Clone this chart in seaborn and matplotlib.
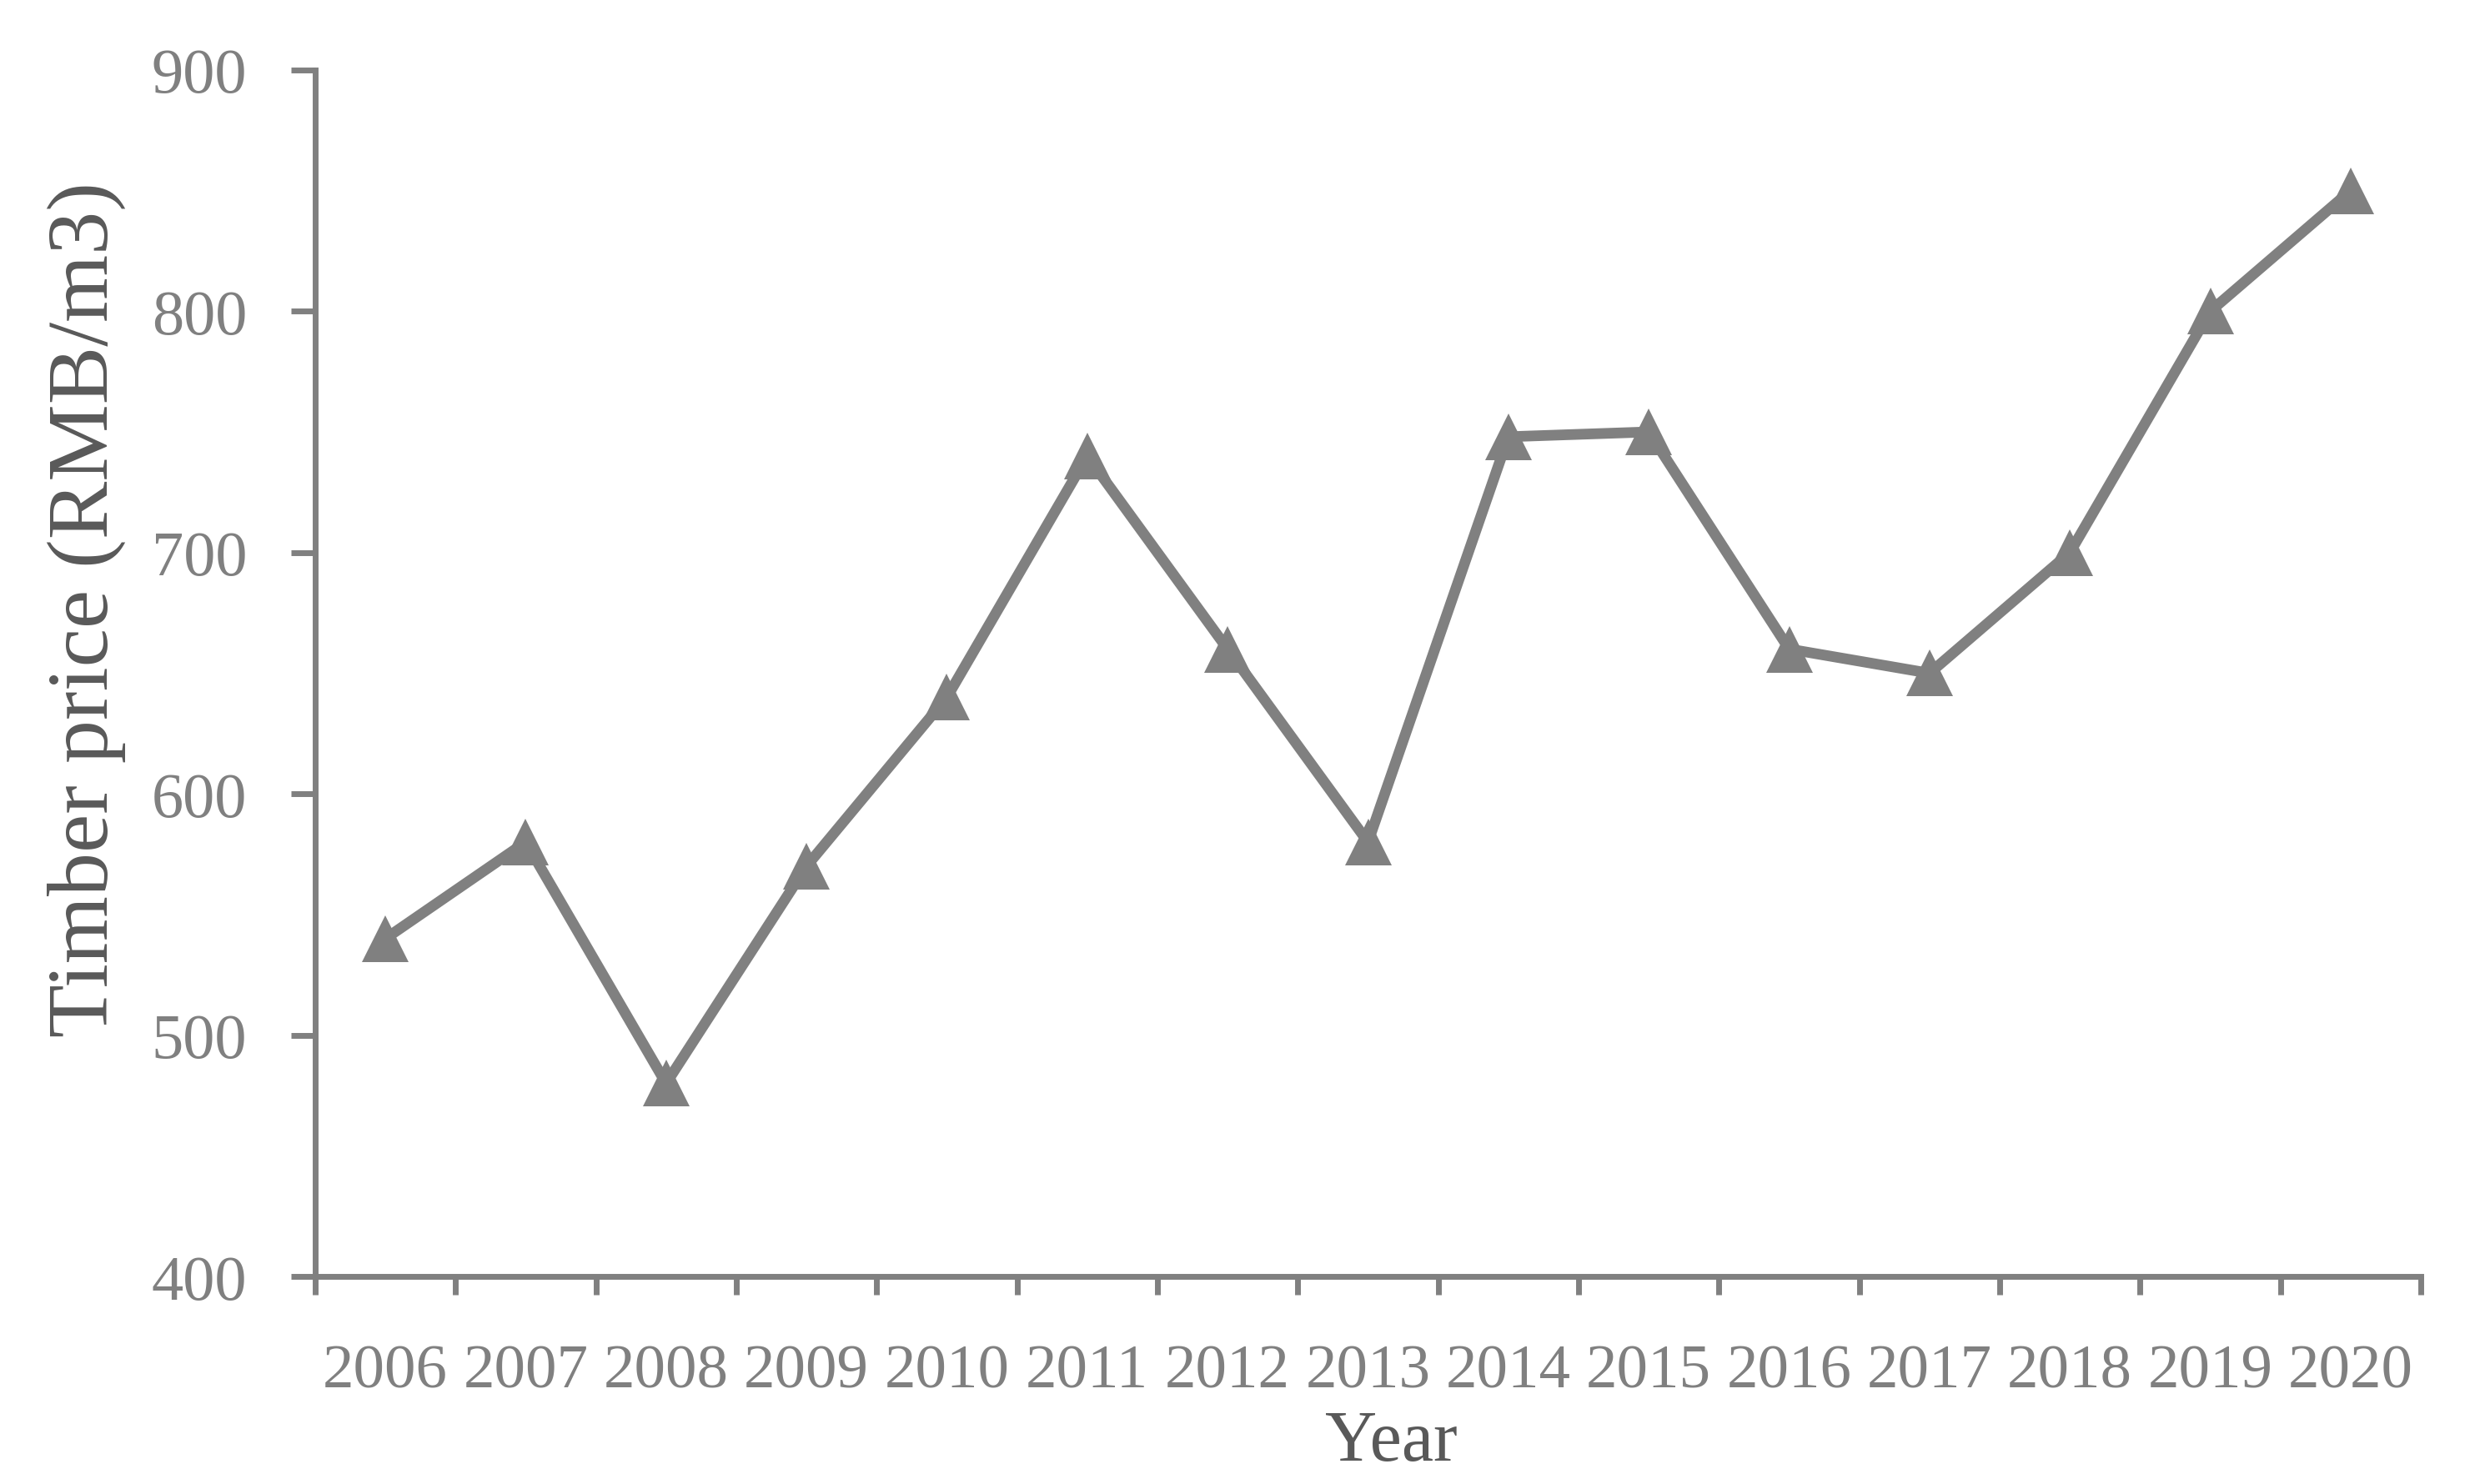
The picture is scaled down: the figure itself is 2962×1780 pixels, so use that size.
import numpy as np
import pandas as pd
import matplotlib
matplotlib.use('Agg')
import matplotlib.pyplot as plt
import seaborn as sns
from matplotlib.ticker import FixedLocator, NullFormatter

years = [2006, 2007, 2008, 2009, 2010, 2011, 2012, 2013,
         2014, 2015, 2016, 2017, 2018, 2019, 2020]
prices = [540, 580, 480, 570, 640, 740, 660, 580,
          748, 750, 660, 650, 700, 800, 850]
y_ticks = [400, 500, 600, 700, 800, 900]

df = pd.DataFrame({'Year': years, 'Price': prices})

sns.set_style('white')
plt.rcParams['font.family'] = ['Liberation Serif', 'DejaVu Serif']

grey = '#808080'
dark = '#595959'

fig = plt.figure(figsize=(14.81, 8.905), dpi=200)
ax = fig.add_axes([0.1276, 0.1398, 0.8525, 0.8125])

sns.lineplot(data=df, x='Year', y='Price', ax=ax, color=grey,
             linewidth=4.6, marker='^', markersize=20,
             markeredgewidth=0, markerfacecolor=grey)

ax.set_xlim(years[0] - 0.5, years[-1] + 0.5)
ax.set_ylim(y_ticks[0], y_ticks[-1])

# category style axis: ticks between years, labels at the years
ax.xaxis.set_major_locator(FixedLocator([y - 0.5 for y in years] + [years[-1] + 0.5]))
ax.xaxis.set_major_formatter(NullFormatter())
ax.set_xticks(years, minor=True)
ax.set_xticklabels([str(y) for y in years], minor=True)
ax.tick_params(axis='x', which='major', direction='out', length=8,
               width=2.5, color=grey, bottom=True)
ax.tick_params(axis='x', which='minor', length=0, pad=29,
               labelsize=27, labelcolor=grey, bottom=True)

ax.set_yticks(y_ticks)
ax.tick_params(axis='y', direction='out', length=10.5, width=2.5,
               color=grey, pad=19, labelsize=27.5, labelcolor=grey, left=True)

for side in ['top', 'right']:
    ax.spines[side].set_visible(False)
for side in ['left', 'bottom']:
    ax.spines[side].set_color(grey)
    ax.spines[side].set_linewidth(2.5)

ax.set_xlabel('Year', fontsize=31, color=dark, va='baseline')
ax.xaxis.set_label_coords(0.511, -0.152)
ax.set_ylabel('Timber price (RMB/m3)', fontsize=37.5, color=dark, va='center')
ax.yaxis.set_label_coords(-0.1085, 0.5535)

fig.savefig('out.png', dpi=200, facecolor='white')
